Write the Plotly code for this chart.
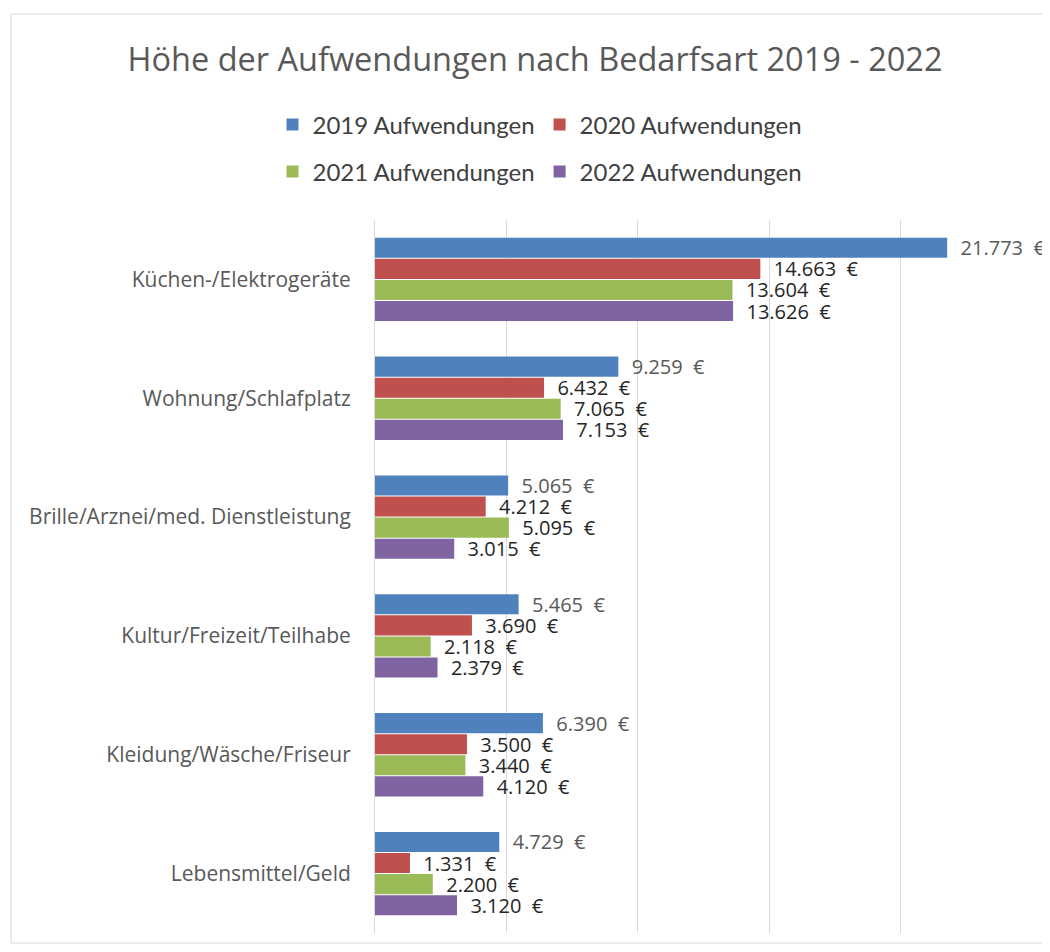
import plotly.graph_objects as go

categories = ["Küchen-/Elektrogeräte", "Wohnung/Schlafplatz",
              "Brille/Arznei/med. Dienstleistung", "Kultur/Freizeit/Teilhabe",
              "Kleidung/Wäsche/Friseur", "Lebensmittel/Geld"]
v2019 = [21773, 9259, 5065, 5465, 6390, 4729]
v2020 = [14663, 6432, 4212, 3690, 3500, 1331]
v2021 = [13604, 7065, 5095, 2118, 3440, 2200]
v2022 = [13626, 7153, 3015, 2379, 4120, 3120]
series_names = ["2019 Aufwendungen", "2020 Aufwendungen", "2021 Aufwendungen", "2022 Aufwendungen"]

colors = ["#4F81BD", "#C0504D", "#9BBB59", "#8064A2"]
label_colors = ["#595959", "#262626", "#262626", "#262626"]
legends = ["legend", "legend", "legend2", "legend2"]

fig = go.Figure()
for name, vals, c, lc, lg in zip(series_names, [v2019, v2020, v2021, v2022], colors, label_colors, legends):
    fig.add_trace(go.Bar(
        y=categories, x=vals, name=name, orientation="h",
        marker=dict(color=c, line=dict(width=0)),
        texttemplate="\u00a0\u00a0%{x:,.0f}\u00a0\u00a0€",
        textposition="outside", constraintext="none", cliponaxis=False,
        textfont=dict(family="Open Sans", size=20, color=lc),
        legend=lg, hoverinfo="skip",
    ))

# page has an 8px body margin; figure coords = page coords - 8
OFF = 8
W, H = 1050 - OFF, 952 - 2 * OFF
L = 375 - OFF
R = W - (1032 - OFF)
T = 220 - OFF
B = H - (933 - OFF)
pw, ph = W - L - R, H - T - B

legend_font = dict(family="Lato", size=24, color="#404040")

fig.update_layout(
    width=W, height=H,
    margin=dict(l=L, r=R, t=T, b=B),
    paper_bgcolor="white", plot_bgcolor="white",
    separators=",.",
    barmode="group", bargap=0.29, bargroupgap=0.05,
    title=dict(text="Höhe der Aufwendungen nach Bedarfsart 2019 - 2022",
               x=(535 - OFF) / W, xref="container", xanchor="center",
               y=1 - (60 - OFF) / H, yref="container", yanchor="middle",
               font=dict(family="Open Sans", size=32.5, color="#595959")),
    legend=dict(orientation="h", x=(540 - OFF) / W, xref="container", xanchor="center",
                y=1 - (125 - OFF) / H, yref="container", yanchor="middle",
                font=legend_font, itemwidth=30, traceorder="normal"),
    legend2=dict(orientation="h", x=(540 - OFF) / W, xref="container", xanchor="center",
                 y=1 - (172 - OFF) / H, yref="container", yanchor="middle",
                 font=legend_font, itemwidth=30, traceorder="normal"),
    xaxis=dict(range=[0, 25000], dtick=5000, showticklabels=False,
               showgrid=True, gridcolor="#d9d9d9", gridwidth=1,
               zeroline=False, fixedrange=True),
    yaxis=dict(autorange="reversed", showline=True, linecolor="#d9d9d9",
               ticks="outside", ticklen=19, tickcolor="rgba(0,0,0,0)",
               tickfont=dict(family="Open Sans", size=21, color="#595959")),
    shapes=[dict(type="rect", xref="paper", yref="paper",
                 x0=(3 - L) / pw, x1=(W + 5 - L) / pw,
                 y0=(H - B - (H - 1)) / ph, y1=(H - B - (14 - OFF)) / ph,
                 line=dict(color="#d9d9d9", width=1), layer="below")],
)

fig.write_html("out.html")
